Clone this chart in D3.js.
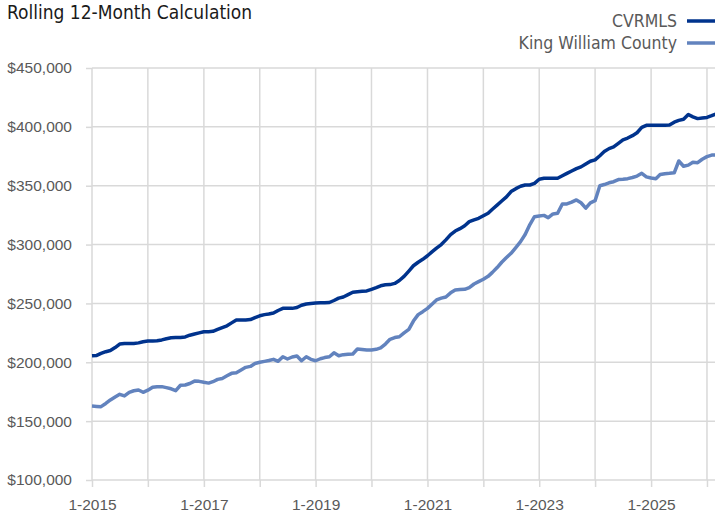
<!DOCTYPE html>
<html>
<head>
<meta charset="utf-8">
<script src="https://d3js.org/d3.v7.min.js"></script>
<style>
  body { margin: 0; padding: 0; background: #fff; }
  svg { display: block; font-family: "Liberation Sans Narrow", "DejaVu Sans Condensed", Roboto, sans-serif; }
  .grid line { stroke: #d9d9d9; stroke-width: 1.5; }
  .axis text { fill: #595959; font-size: 15.5px; }
  .axis path { display: none; }
  .axis line { stroke: #d9d9d9; stroke-width: 1.5; }
</style>
</head>
<body>
<script>
// monthly rolling 12-month values, Jan 2015 .. Mar 2026
var startMonth = "2015-01";
var seriesNames = ["CVRMLS", "King William County"];
var seriesColors = ["#00338d", "#6283be"];

var cvrmls = [
  205.6, 205.8, 207.5, 209, 210, 212.5, 215.5, 216, 216, 216, 216.5, 217.5,
  218, 218, 218.3, 219, 220, 220.8, 221, 221, 221.5, 223, 224, 225,
  226, 226, 226.3, 228, 229.5, 231, 233.5, 236, 236, 236, 236.3, 238,
  239.5, 240.5, 241, 241.8, 244, 245.8, 245.8, 245.8, 246.5, 248.5, 249.5, 250,
  250.3, 250.5, 250.5, 250.8, 252.5, 254.5, 255.5, 257.5, 259.5, 260, 260.3, 260.6,
  262, 263.5, 265, 265.8, 266, 267, 269.5, 273, 277.5, 282, 285, 287.5,
  290.5, 294, 297, 300, 304, 308.5, 311.5, 313.5, 316, 319.5, 321, 322.3,
  324.5, 326.6, 330, 333.5, 337, 340.5, 345, 347.5, 349.5, 350.6, 350.6, 352,
  355.5, 356.3, 356.3, 356.3, 356.4, 358.5, 360.5, 362.5, 364.5, 366, 368.5, 370.8,
  372, 375.5, 379, 381.5, 383, 386, 389, 390.5, 392.5, 395, 399.5, 401.3,
  401.3, 401.3, 401.3, 401.3, 401.5, 404, 405.5, 406.5, 410.5, 408.5, 407, 407.5,
  408, 409.5, 411
];

var kingWilliam = [
  162.8, 162.5, 162.3, 165, 168, 170.5, 172.8, 171.4, 174.5, 175.8, 176.5, 174.5,
  176.3, 178.8, 179.3, 179.3, 178.5, 177.5, 175.9, 180.5, 180.7, 182, 184, 183.8,
  183, 182.3, 183.5, 185.5, 186.3, 188.5, 190.6, 191.2, 193.5, 195.7, 196.5, 199,
  200, 200.8, 201.5, 202.5, 200.8, 204.7, 202.8, 204.5, 205.3, 201.3, 204.7, 202.5,
  201.3, 203, 204, 204.7, 208, 205.6, 206.5, 206.8, 207, 211.3, 210.8, 210.4,
  210.5, 211, 212.2, 215.5, 219.5, 221, 221.7, 225, 228, 235, 240.5, 243,
  245.8, 249.5, 253, 254.5, 255.5, 259, 261.4, 261.8, 262, 263.5, 266.5, 268.5,
  270.5, 273, 276.4, 280.5, 285, 289, 292.6, 297.5, 302.5, 308.5, 317, 323.7,
  324.3, 324.8, 322.8, 326, 326.6, 334.5, 334.5, 336, 337.9, 335.5, 331, 335.5,
  337.3, 350, 351, 352.5, 353.4, 355.2, 355.5, 356, 357, 358.2, 360.5, 357.5,
  356.5, 356, 359.5, 360.2, 360.5, 361, 371, 366.5, 367.5, 370, 369.6, 372.5,
  374.7, 376, 376.1
];

var yTicks = [100000, 150000, 200000, 250000, 300000, 350000, 400000, 450000];
var chartTitle = "Rolling 12-Month Calculation";

var width = 715, height = 515;
var margin = { top: 68, left: 92, bottom: 35 };

var svg = d3.select("body").append("svg")
  .attr("width", width)
  .attr("height", height);

var t0 = d3.timeParse("%Y-%m")(startMonth);
var months = d3.range(cvrmls.length).map(function(i) { return d3.timeMonth.offset(t0, i); });

var x = d3.scaleTime()
  .domain([t0, months[months.length - 1]])
  .range([margin.left, 716]);

var y = d3.scaleLinear()
  .domain([100000, 450000])
  .range([height - margin.bottom, margin.top]);

var years = d3.timeYear.range(t0, d3.timeYear.offset(months[months.length - 1], 1));

// gridlines
var grid = svg.append("g").attr("class", "grid");
grid.selectAll(".h").data(yTicks).enter().append("line")
  .attr("x1", margin.left).attr("x2", width)
  .attr("y1", function(d) { return y(d); })
  .attr("y2", function(d) { return y(d); });
grid.selectAll(".v").data(years).enter().append("line")
  .attr("x1", function(d) { return x(d); })
  .attr("x2", function(d) { return x(d); })
  .attr("y1", margin.top).attr("y2", y(100000));

// axes
svg.append("g")
  .attr("class", "axis")
  .attr("transform", "translate(" + margin.left + ",0)")
  .call(d3.axisLeft(y).tickValues(yTicks).tickSize(6).tickPadding(14)
    .tickFormat(function(d) { return "$" + d3.format(",")(d); }));

var xAxis = svg.append("g")
  .attr("class", "axis")
  .attr("transform", "translate(0," + y(100000) + ")")
  .call(d3.axisBottom(x).tickValues(years).tickSize(7).tickPadding(12)
    .tickFormat(function(d) { return "1-" + d.getFullYear(); }));

// only every other year is labelled
xAxis.selectAll(".tick text")
  .filter(function(d) { return d.getFullYear() % 2 === 0; })
  .remove();

// lines
var line = d3.line()
  .x(function(d, i) { return x(months[i]); })
  .y(function(d) { return y(d * 1000); });

[cvrmls, kingWilliam].forEach(function(s, k) {
  svg.append("path")
    .datum(s)
    .attr("fill", "none")
    .attr("stroke", seriesColors[k])
    .attr("stroke-width", 3.5)
    .attr("stroke-linejoin", "round")
    .attr("d", line);
});

// title
svg.append("text")
  .attr("x", 7).attr("y", 19)
  .attr("font-size", 19)
  .attr("fill", "#1a1a1a")
  .text(chartTitle);

// legend
var legend = svg.selectAll(".legend").data(seriesNames).enter().append("g")
  .attr("class", "legend")
  .attr("transform", function(d, i) { return "translate(0," + (21 + i * 22) + ")"; });

legend.append("text")
  .attr("x", 677).attr("y", 6)
  .attr("text-anchor", "end")
  .attr("font-size", 17.5)
  .attr("fill", "#595959")
  .text(function(d) { return d; });

legend.append("line")
  .attr("x1", 687).attr("x2", 716)
  .attr("stroke", function(d, i) { return seriesColors[i]; })
  .attr("stroke-width", 3.5);
</script>
</body>
</html>
